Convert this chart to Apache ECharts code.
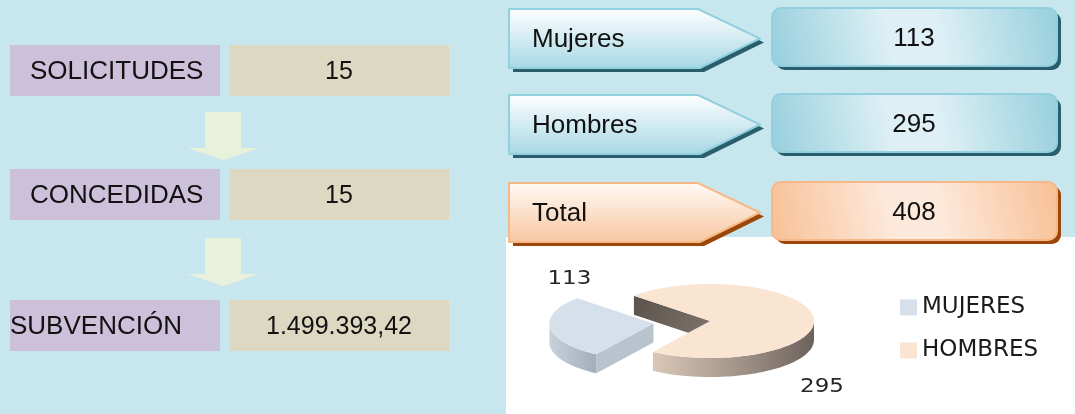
<!DOCTYPE html>
<html>
<head>
<meta charset="utf-8">
<script src="https://cdn.jsdelivr.net/npm/echarts@6/dist/echarts.min.js"></script>
<style>
  html, body { margin: 0; padding: 0; background: #c8e6ee; }
  #chart { width: 1075px; height: 414px; }
</style>
</head>
<body>
<div id="chart"></div>
<script>
// datos
var flowLabels = ['SOLICITUDES', 'CONCEDIDAS', 'SUBVENCIÓN'];
var flowValues = ['15', '15', '1.499.393,42'];
var genderLabels = ['Mujeres', 'Hombres', 'Total'];
var genderValues = [113, 295, 408];
var pieNames = ['MUJERES', 'HOMBRES'];
var pieValues = [113, 295];

var FONT = '"Liberation Sans", Arial, sans-serif';
var myChart = echarts.init(document.getElementById('chart'));

var graphic = [];
// fondo blanco bajo el grafico de tarta
graphic.push({ type: 'rect', shape: { x: 506, y: 237, width: 569, height: 177 }, style: { fill: '#fff' } });

// columna izquierda
var rowTop = [45, 169, 300];
var labelX = [30, 30, 10];
flowLabels.forEach(function (lab, i) {
  var t = rowTop[i];
  graphic.push({ type: 'rect', shape: { x: 10, y: t, width: 210, height: 51 }, style: { fill: '#cdc0da' } });
  graphic.push({ type: 'rect', shape: { x: 230, y: t, width: 219, height: 51 }, style: { fill: '#ddd8c1' } });
  graphic.push({ type: 'text', x: labelX[i], y: t + 27, style: { text: lab, font: '26px ' + FONT, fill: '#111', verticalAlign: 'middle' } });
  graphic.push({ type: 'text', x: 339, y: t + 27, style: { text: flowValues[i], font: '25px ' + FONT, fill: '#111', align: 'center', verticalAlign: 'middle' } });
});
// flechas
[112, 238].forEach(function (t) {
  graphic.push({
    type: 'polygon',
    shape: { points: [[205, t], [241, t], [241, t + 36], [259, t + 36], [223.5, t + 48], [188, t + 36], [205, t + 36]] },
    style: { fill: '#e9f1dc' }
  });
});

// columna derecha
var boxTop = [9, 95, 183];
var themes = [
  { shadow: '#2a5e6c', stroke: '#92d0df', top: '#ffffff', bottom: '#a6d7e4', edge: '#96cfdd', mid: '#def0f5' },
  { shadow: '#2a5e6c', stroke: '#92d0df', top: '#ffffff', bottom: '#a6d7e4', edge: '#96cfdd', mid: '#def0f5' },
  { shadow: '#9c4709', stroke: '#f5b886', top: '#fffaf6', bottom: '#f8c6a0', edge: '#f8c095', mid: '#fde9dc' }
];
genderLabels.forEach(function (lab, i) {
  var t = boxTop[i], h = 59, c = themes[i];
  var pts = function (dx, dy) {
    return [[509 + dx, t + dy], [698 + dx, t + dy], [760 + dx, t + h / 2 + dy], [700 + dx, t + h + dy], [509 + dx, t + h + dy]];
  };
  graphic.push({ type: 'polygon', shape: { points: pts(4, 4) }, style: { fill: c.shadow } });
  graphic.push({
    type: 'polygon', shape: { points: pts(0, 0) },
    style: {
      fill: new echarts.graphic.LinearGradient(0, 0, 0, 1, [{ offset: 0, color: c.top }, { offset: 1, color: c.bottom }]),
      stroke: c.stroke, lineWidth: 2
    }
  });
  graphic.push({ type: 'text', x: 532, y: t + h / 2 + 1, style: { text: lab, font: '26px ' + FONT, fill: '#111', verticalAlign: 'middle' } });

  graphic.push({ type: 'rect', shape: { x: 776, y: t + 3, width: 285, height: 58, r: 9 }, style: { fill: c.shadow } });
  graphic.push({
    type: 'rect', shape: { x: 772, y: t - 1, width: 285, height: 58, r: 9 },
    style: {
      fill: new echarts.graphic.LinearGradient(0, 1, 1, 0, [
        { offset: 0, color: c.edge }, { offset: 0.42, color: c.mid }, { offset: 0.58, color: c.mid }, { offset: 1, color: c.edge }
      ]),
      stroke: c.stroke, lineWidth: 2
    }
  });
  graphic.push({ type: 'text', x: 914, y: t + 30, style: { text: String(genderValues[i]), font: '26px ' + FONT, fill: '#111', align: 'center', verticalAlign: 'middle' } });
});

// tarta 3D dibujada con series custom
var PIE = { cx: 710, cy: 321, rx: 104, ry: 37, depth: 19, start: 137 };
var explode = [57, 0];
var pieColors = ['#d6e0eb', '#fae4d2'];
var sliceStyle = [
  { wall: ['#c7d1dc', '#a4aeba'], cut: '#b9c3ce', label: [-84, -45] },
  { wall: ['#dac7b7', '#a5978b', '#6c625c'], cut: ['#5a524c', '#7e746c'], label: [112, 66] }
];

function renderSlice(i, api) {
  var total = pieValues.reduce(function (a, b) { return a + b; }, 0);
  var a0 = PIE.start;
  for (var j = 0; j < i; j++) a0 += pieValues[j] / total * 360;
  var a1 = a0 + api.value(0) / total * 360;
  var mid = (a0 + a1) / 2 * Math.PI / 180;
  var cx = PIE.cx + explode[i] * Math.cos(mid);
  var cy = PIE.cy - explode[i] * Math.sin(mid) * PIE.ry / PIE.rx;
  var st = sliceStyle[i];

  function pt(deg, dz) {
    var r = deg * Math.PI / 180;
    return [cx + PIE.rx * Math.cos(r), cy - PIE.ry * Math.sin(r) + (dz || 0)];
  }
  function arc(from, to, dz) {
    var out = [], n = Math.max(2, Math.ceil(Math.abs(to - from) / 2));
    for (var k = 0; k <= n; k++) out.push(pt(from + (to - from) * k / n, dz));
    return out;
  }
  var grad = function (cols, x, y, x2, y2) {
    if (typeof cols === 'string') return cols;
    return new echarts.graphic.LinearGradient(x, y, x2, y2, cols.map(function (col, k) {
      return { offset: k / (cols.length - 1), color: col };
    }));
  };

  var children = [];
  var D = PIE.depth;
  // cara de corte inicial
  if (Math.cos(a0 * Math.PI / 180) > 0) {
    var o = pt(a0);
    children.push({ type: 'polygon', shape: { points: [[cx, cy], o, [o[0], o[1] + D], [cx, cy + D]] }, style: { fill: grad(st.cut, 0, 0, 1, 1) } });
  }
  // cara de corte final
  if (Math.cos(a1 * Math.PI / 180) < 0) {
    var e = pt(a1);
    children.push({ type: 'polygon', shape: { points: [[cx, cy], e, [e[0], e[1] + D], [cx, cy + D]] }, style: { fill: grad(st.cut, 0, 0, 1, 1) } });
  }
  // pared exterior visible
  [0, 360].forEach(function (k) {
    var lo = Math.max(a0, 180 + k), hi = Math.min(a1, 360 + k);
    if (hi > lo) {
      var pts = arc(lo, hi, 0).concat(arc(hi, lo, D));
      children.push({ type: 'polygon', shape: { points: pts }, style: { fill: grad(st.wall, 0, 0, 1, 0) } });
    }
  });
  // cara superior
  children.push({
    type: 'polygon',
    shape: { points: [[cx, cy]].concat(arc(a0, a1, 0)) },
    style: { fill: api.visual('color') }
  });
  // etiqueta de valor
  children.push({
    type: 'text', x: cx + st.label[0], y: cy + st.label[1], scaleX: 1.15,
    style: { text: String(api.value(0)), font: '20px "DejaVu Sans", sans-serif', fill: '#262626', align: 'center', verticalAlign: 'middle' }
  });
  return { type: 'group', children: children };
}

myChart.setOption({
  backgroundColor: '#c8e6ee',
  animation: false,
  graphic: graphic,
  legend: {
    orient: 'vertical',
    left: 895,
    top: 291,
    icon: 'rect',
    itemWidth: 17,
    itemHeight: 16,
    itemGap: 20,
    data: pieNames,
    textStyle: { fontFamily: 'DejaVu Sans', fontSize: 23, color: '#1a1a1a', lineHeight: 18 }
  },
  series: pieNames.map(function (name, i) {
    return {
      type: 'custom',
      name: name,
      coordinateSystem: 'none',
      silent: true,
      itemStyle: { color: pieColors[i] },
      data: [pieValues[i]],
      renderItem: function (params, api) { return renderSlice(i, api); }
    };
  })
});
</script>
</body>
</html>
